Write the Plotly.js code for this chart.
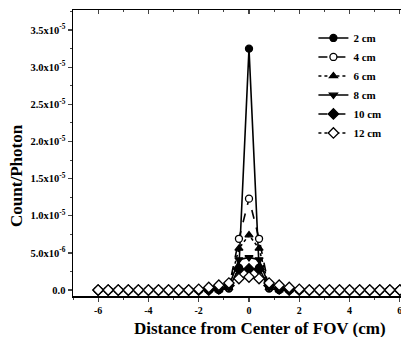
<!DOCTYPE html>
<html>
<head>
<meta charset="utf-8">
<script src="https://cdn.plot.ly/plotly-3.0.1.min.js"></script>
<style>
html,body{margin:0;padding:0;overflow:hidden;background:#fff;}
#chart{width:425px;height:337px;}
</style>
</head>
<body>
<div id="chart"></div>
<script>
const xVals = [-6,-5.6,-5.2,-4.8,-4.4,-4,-3.6,-3.2,-2.8,-2.4,-2,-1.6,-1.2,-0.8,-0.4,0,0.4,0.8,1.2,1.6,2,2.4,2.8,3.2,3.6,4,4.4,4.8,5.2,5.6,6];
const seriesNames = ["2 cm","4 cm","6 cm","8 cm","10 cm","12 cm"];
const s2cm  = [0,0,0,0,0,0,0,0,0,0,0,0,0,2e-7,3.0e-6,3.25e-5,3.0e-6,2e-7,0,0,0,0,0,0,0,0,0,0,0,0,0];
const s4cm  = [0,0,0,0,0,0,0,0,0,0,0,0,5e-8,3e-7,6.9e-6,1.23e-5,6.9e-6,3e-7,5e-8,0,0,0,0,0,0,0,0,0,0,0,0];
const s6cm  = [0,0,0,0,0,0,0,0,0,0,0,0,0,3e-7,5.6e-6,7.4e-6,5.6e-6,3e-7,0,0,0,0,0,0,0,0,0,0,0,0,0];
const s8cm  = [0,0,0,0,0,0,0,0,0,0,0,0,1e-7,5e-7,4.1e-6,4.4e-6,4.1e-6,5e-7,1e-7,0,0,0,0,0,0,0,0,0,0,0,0];
const s10cm = [0,0,0,0,0,0,0,0,0,0,0,0,1.5e-7,6e-7,2.8e-6,2.85e-6,2.8e-6,6e-7,1.5e-7,0,0,0,0,0,0,0,0,0,0,0,0];
const s12cm = [0,0,0,0,0,0,0,0,0,0,1e-7,3.5e-7,6.5e-7,9.5e-7,1.55e-6,1.75e-6,1.55e-6,9.5e-7,6.5e-7,3.5e-7,1e-7,0,0,0,0,0,0,0,0,0,0];
const yTickVals = [0,5e-6,1e-5,1.5e-5,2e-5,2.5e-5,3e-5,3.5e-5];
const yTickText = ["<b>0.0</b>","<b>5.0x10<sup>-6</sup></b>","<b>1.0x10<sup>-5</sup></b>","<b>1.5x10<sup>-5</sup></b>","<b>2.0x10<sup>-5</sup></b>","<b>2.5x10<sup>-5</sup></b>","<b>3.0x10<sup>-5</sup></b>","<b>3.5x10<sup>-5</sup></b>"];
const xTickVals = [-6,-4,-2,0,2,4,6];
const xTickText = ["<b>-6</b>","<b>-4</b>","<b>-2</b>","<b>0</b>","<b>2</b>","<b>4</b>","<b>6</b>"];

const ys = [s2cm,s4cm,s6cm,s8cm,s10cm,s12cm];
const symbols = ["circle","circle","triangle-up","triangle-down","diamond","diamond"];
const fills = ["#000","#fff","#000","#000","#000","#fff"];
const dashes = ["solid","dash","dot","solid","dash","dot"];
const sizes = [7,7,7,7,8,8];

const traces = ys.map((y,i)=>({
  x:xVals, y:y, name:seriesNames[i], type:"scatter", mode:"lines+markers",
  line:{color:"#000",width:1.6,dash:dashes[i]},
  marker:{symbol:symbols[i],size:sizes[i],color:fills[i],line:{color:"#000",width:1.3}},
  cliponaxis:false
}));
// top mirror axis carrier
traces.push({x:[-7,7],y:[0,0],xaxis:"x2",yaxis:"y",mode:"none",showlegend:false,hoverinfo:"skip"});

const font = {family:"Liberation Serif, Times New Roman, serif",color:"#000"};
const layout = {
  width:425, height:337,
  margin:{l:73,r:0,t:10,b:41},
  paper_bgcolor:"#fff", plot_bgcolor:"#fff",
  font:Object.assign({size:10},font),
  showlegend:true,
  legend:{x:0.683,y:0.953,xanchor:"left",yanchor:"top",bgcolor:"rgba(0,0,0,0)",
    font:Object.assign({size:11,weight:"bold"},font),tracegroupgap:0,itemwidth:30},
  xaxis:{range:[-7,7],tickvals:xTickVals,ticktext:xTickText,ticks:"outside",ticklen:4,tickwidth:1.2,
    showline:true,linewidth:1.5,linecolor:"#000",zeroline:false,showgrid:false,
    tickfont:Object.assign({size:10,weight:"bold"},font),
    minor:{dtick:1,tick0:-7,ticks:"outside",ticklen:2,tickwidth:1,showgrid:false}},
  xaxis2:{range:[-7,7],overlaying:"x",side:"top",tickvals:xTickVals,ticks:"inside",ticklen:4,tickwidth:1.2,
    showline:true,linewidth:1.5,linecolor:"#000",zeroline:false,showgrid:false,showticklabels:false,
    minor:{dtick:1,tick0:-7,ticks:"inside",ticklen:2,tickwidth:1,showgrid:false}},
  yaxis:{range:[-8e-7,3.77e-5],tickvals:yTickVals,ticktext:yTickText,ticks:"outside",ticklen:4,tickwidth:1.2,
    showline:true,linewidth:1.5,linecolor:"#000",zeroline:false,showgrid:false,
    tickfont:Object.assign({size:10.5,weight:"bold"},font),
    minor:{dtick:2.5e-6,ticks:"outside",ticklen:2,tickwidth:1,showgrid:false}},
  annotations:[
    {text:"Count/Photon",xref:"paper",yref:"paper",x:-0.159,y:0.42,textangle:-90,showarrow:false,
      xanchor:"center",yanchor:"middle",font:Object.assign({size:17,weight:"bold"},font)},
    {text:"Distance from Center of FOV (cm)",xref:"paper",yref:"paper",x:0.531,y:-0.112,showarrow:false,
      xanchor:"center",yanchor:"middle",font:Object.assign({size:17,weight:"bold"},font)}
  ]
};
Plotly.newPlot("chart",traces,layout,{displayModeBar:false,staticPlot:true});
</script>
</body>
</html>
